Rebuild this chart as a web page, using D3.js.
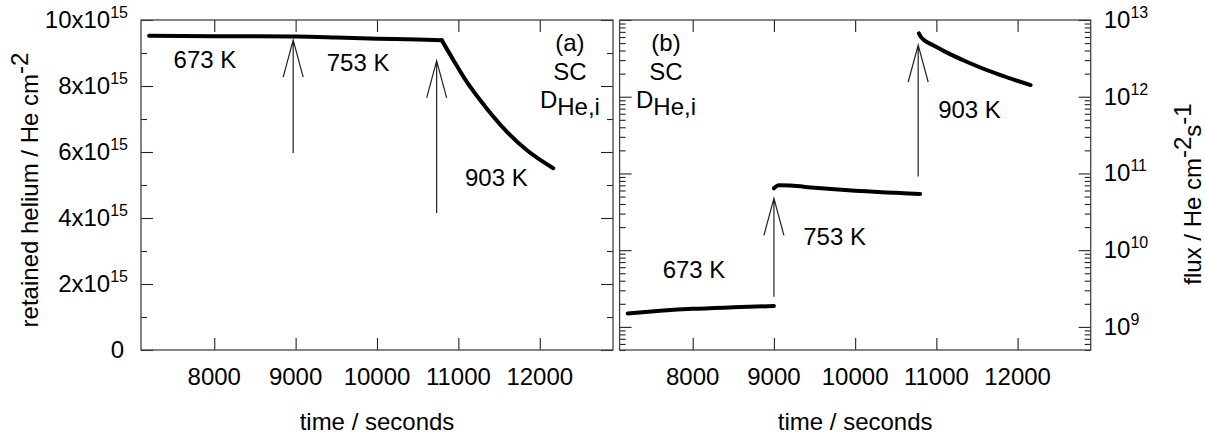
<!DOCTYPE html>
<html>
<head>
<meta charset="utf-8">
<script src="https://cdn.jsdelivr.net/npm/d3@7"></script>
<style>
  body { margin: 0; background: #fff; }
  svg text { font-family: "Liberation Sans", Arial, Helvetica, sans-serif; fill: #000; }
</style>
</head>
<body>
<svg id="chart" width="1205" height="437"></svg>
<script>
// ---- data -------------------------------------------------------------
// (a) retained helium vs time
const retainedTime = [7200, 8000, 9000, 9500, 10000, 10500, 10795, 10938, 11102, 11348, 11594, 11839, 12166];
const retainedHe   = [9.52e15, 9.51e15, 9.50e15, 9.47e15, 9.43e15, 9.41e15, 9.39e15, 8.79e15, 8.13e15, 7.32e15, 6.62e15, 6.06e15, 5.51e15];
const retainedStepIndex = 6; // last point before heating to 903 K

// (b) desorption flux, one segment per temperature step
const flux673Time = [7200, 7600, 8000, 8500, 9000];
const flux673     = [1.5e9, 1.62e9, 1.72e9, 1.8e9, 1.87e9];
const flux753Time = [9000, 9060, 9200, 9500, 10000, 10500, 10800];
const flux753     = [6.4e10, 7.0e10, 6.95e10, 6.5e10, 5.95e10, 5.6e10, 5.4e10];
const flux903Time = [10785, 10810, 10860, 10960, 11100, 11372, 11782, 12160];
const flux903     = [6.7e12, 6.0e12, 5.35e12, 4.7e12, 3.9e12, 2.86e12, 1.92e12, 1.42e12];

// axis ticks and labels
const timeTicks = [8000, 9000, 10000, 11000, 12000];
const retainedMajor = [0, 2e15, 4e15, 6e15, 8e15, 10e15];
const retainedMinor = [1e15, 3e15, 5e15, 7e15, 9e15];
const retainedTickText = ["0", "2x10", "4x10", "6x10", "8x10", "10x10"];
const retainedTickExp  = ["", "15", "15", "15", "15", "15"];
const fluxMajor = [1e9, 1e10, 1e11, 1e12, 1e13];
const fluxTickText = ["10", "10", "10", "10", "10"];
const fluxTickExp  = ["9", "10", "11", "12", "13"];

// temperature steps marked with arrows: time, arrow foot, arrow tip
const arrowTimeA = [8970, 10733];
const arrowFromA = [5.97e15, 4.15e15];
const arrowToA   = [9.39e15, 8.76e15];
const arrowTimeB = [9000, 10776];
const arrowFromB = [2.48e9, 9.1e10];
const arrowToB   = [4.74e10, 4.72e12];

// temperature labels anchored in data coordinates
const tempText = ["673 K", "753 K", "903 K"];
const tempTimeA = [7500, 9382, 11081];
const tempValA  = [8.545e15, 8.44e15, 4.97e15];
const tempTimeB = [7630, 9361, 11022];
const tempValB  = [4.35e9, 1.17e10, 5.28e11];

// ---- layout -------------------------------------------------------------
const svg = d3.select("#chart");
const plotTop = 20, plotBottom = 350;
const panelA = { left: 141, right: 613 };
const panelB = { left: 619.6, right: 1090.7 };
const FS = 24;

const xA = d3.scaleLinear().domain([7100, 12900]).range([panelA.left, panelA.right]);
const yA = d3.scaleLinear().domain([0, 10e15]).range([plotBottom, plotTop]);
const xB = d3.scaleLinear().domain([7100, 12900]).range([panelB.left, panelB.right]);
const yB = d3.scaleLog().domain([5e8, 1e13]).range([plotBottom, plotTop]);

const fluxMinor = yB.ticks().filter(v => !fluxMajor.some(m => Math.abs(m - v) / m < 1e-9));

function tickAxis(gen, x, y, values, size) {
  const g = svg.append("g").attr("transform", `translate(${x},${y})`)
    .call(gen.tickValues(values).tickSizeInner(-size).tickSizeOuter(0).tickFormat(() => ""));
  g.select(".domain").remove();
  g.selectAll(".tick line").attr("stroke", "#222").attr("stroke-width", 1.1);
  g.selectAll(".tick text").remove();
  return g;
}

function frame(p) {
  svg.append("rect")
    .attr("x", p.left).attr("y", plotTop)
    .attr("width", p.right - p.left).attr("height", plotBottom - plotTop)
    .attr("fill", "none").attr("stroke", "#444").attr("stroke-width", 1.3);
}

// ---- panel (a) axes -------------------------------------------------------
tickAxis(d3.axisBottom(xA), 0, plotBottom, timeTicks, 12);
tickAxis(d3.axisTop(xA), 0, plotTop, timeTicks, 12);
tickAxis(d3.axisLeft(yA), panelA.left, 0, retainedMajor, 12);
tickAxis(d3.axisLeft(yA), panelA.left, 0, retainedMinor, 6);
tickAxis(d3.axisRight(yA), panelA.right, 0, retainedMajor, 12);
tickAxis(d3.axisRight(yA), panelA.right, 0, retainedMinor, 6);

// ---- panel (b) axes -------------------------------------------------------
tickAxis(d3.axisBottom(xB), 0, plotBottom, timeTicks, 12);
tickAxis(d3.axisTop(xB), 0, plotTop, timeTicks, 12);
tickAxis(d3.axisLeft(yB), panelB.left, 0, fluxMajor, 12);
tickAxis(d3.axisLeft(yB), panelB.left, 0, fluxMinor, 6);
tickAxis(d3.axisRight(yB), panelB.right, 0, fluxMajor, 12);
tickAxis(d3.axisRight(yB), panelB.right, 0, fluxMinor, 6);

frame(panelA);
frame(panelB);

// time tick labels
[xA, xB].forEach(xs => {
  svg.append("g").selectAll("text").data(timeTicks).join("text")
    .attr("x", d => xs(d)).attr("y", plotBottom + 35)
    .attr("text-anchor", "middle").attr("font-size", FS)
    .text(d => d);
});

// retained helium tick labels (mantissa x 10^exp)
retainedMajor.forEach((v, i) => {
  const t = svg.append("text")
    .attr("x", panelA.left - (v === 0 ? 17 : 13)).attr("y", yA(v) + 8)
    .attr("text-anchor", "end").attr("font-size", FS);
  t.append("tspan").text(retainedTickText[i]);
  if (retainedTickExp[i]) t.append("tspan").attr("font-size", 16).attr("dy", -10).text(retainedTickExp[i]);
});

// flux tick labels on the right edge
fluxMajor.forEach((v, i) => {
  const t = svg.append("text")
    .attr("x", panelB.right + 13).attr("y", yB(v) + 8)
    .attr("text-anchor", "start").attr("font-size", FS);
  t.append("tspan").text(fluxTickText[i]);
  t.append("tspan").attr("font-size", 16).attr("dy", -10).text(fluxTickExp[i]);
});

// axis titles
[panelA, panelB].forEach(p => {
  svg.append("text")
    .attr("x", (p.left + p.right) / 2).attr("y", 430)
    .attr("text-anchor", "middle").attr("font-size", FS)
    .text("time / seconds");
});

const yTitleA = svg.append("text")
  .attr("transform", "translate(38,190) rotate(-90)")
  .attr("text-anchor", "middle").attr("font-size", FS);
yTitleA.append("tspan").text("retained helium / He cm");
yTitleA.append("tspan").attr("dy", -10).text("-2");

const yTitleB = svg.append("text")
  .attr("transform", "translate(1201,194) rotate(-90)")
  .attr("text-anchor", "middle").attr("font-size", FS);
yTitleB.append("tspan").text("flux / He cm");
yTitleB.append("tspan").attr("dy", -10).text("-2");
yTitleB.append("tspan").attr("dy", 10).text("s");
yTitleB.append("tspan").attr("dy", -10).text("-1");

// ---- curves -------------------------------------------------------------
function curve(xs, ys, times, vals) {
  const line = d3.line().x(d => xs(d[0])).y(d => ys(d[1])).curve(d3.curveMonotoneX);
  svg.append("path")
    .attr("d", line(times.map((t, i) => [t, vals[i]])))
    .attr("fill", "none").attr("stroke", "#000")
    .attr("stroke-width", 4).attr("stroke-linecap", "round").attr("stroke-linejoin", "round");
}
// retained helium: isothermal part and the 903 K release, joined at the step
curve(xA, yA, retainedTime.slice(0, retainedStepIndex + 1), retainedHe.slice(0, retainedStepIndex + 1));
curve(xA, yA, retainedTime.slice(retainedStepIndex), retainedHe.slice(retainedStepIndex));
curve(xB, yB, flux673Time, flux673);
curve(xB, yB, flux753Time, flux753);
curve(xB, yB, flux903Time, flux903);

// ---- arrows ---------------------------------------------------------------
function arrows(xs, ys, times, from, to) {
  times.forEach((t, i) => {
    const x = xs(t), y0 = ys(from[i]), y1 = ys(to[i]);
    svg.append("path")
      .attr("d", `M${x},${y0}V${y1}M${x - 10},${y1 + 37}L${x},${y1}L${x + 10},${y1 + 37}`)
      .attr("fill", "none").attr("stroke", "#222").attr("stroke-width", 1.2);
  });
}
arrows(xA, yA, arrowTimeA, arrowFromA, arrowToA);
arrows(xB, yB, arrowTimeB, arrowFromB, arrowToB);

// ---- text labels ------------------------------------------------------------
tempText.forEach((s, i) => {
  svg.append("text").attr("x", xA(tempTimeA[i])).attr("y", yA(tempValA[i]))
    .attr("font-size", FS).text(s);
  svg.append("text").attr("x", xB(tempTimeB[i])).attr("y", yB(tempValB[i]))
    .attr("font-size", FS).text(s);
});

function panelTag(cx, tag) {
  svg.append("text").attr("x", cx).attr("y", 51).attr("text-anchor", "middle")
    .attr("font-size", FS).text(tag);
  svg.append("text").attr("x", cx).attr("y", 80).attr("text-anchor", "middle")
    .attr("font-size", FS).text("SC");
  const d = svg.append("text").attr("x", cx).attr("y", 108).attr("text-anchor", "middle")
    .attr("font-size", FS);
  d.append("tspan").text("D");
  d.append("tspan").attr("dy", 7).text("He,i");
}
panelTag(xA(12371), "(a)");
panelTag(xB(7671), "(b)");
</script>
</body>
</html>
